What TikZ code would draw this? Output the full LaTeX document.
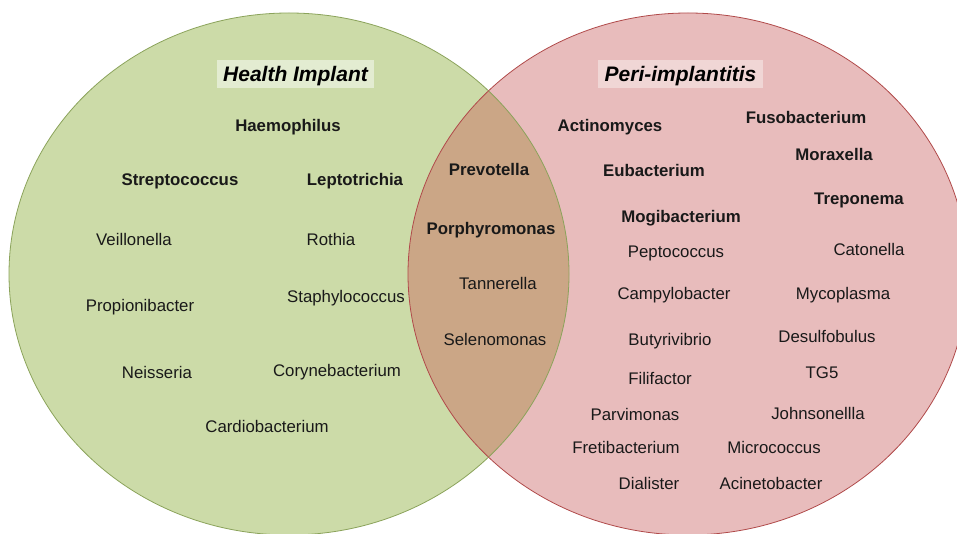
\documentclass[tikz,border=0pt]{standalone}
\usepackage{fontspec}
\setmainfont{Liberation Sans}
\definecolor{gfill}{HTML}{CCDBA8}
\definecolor{gline}{HTML}{8BA35B}
\definecolor{gbox}{HTML}{E3ECD1}
\definecolor{pfill}{HTML}{E8BCBC}
\definecolor{pline}{HTML}{B04A4A}
\definecolor{pbox}{HTML}{F0D6D5}
\definecolor{ofill}{HTML}{CBA686}
\tikzset{
  lbl/.style={font=\fontsize{16.8}{18}\selectfont, text=black!90, inner sep=0pt, text height=12pt, text depth=0pt, anchor=center},
  blbl/.style={lbl, font=\fontsize{16.8}{18}\selectfont\bfseries},
  ttl/.style={font=\fontsize{21}{24}\selectfont\bfseries\itshape, inner xsep=6.5pt, inner ysep=6.5pt, text height=15pt, text depth=0pt, anchor=center}
}
\begin{document}
\begin{tikzpicture}[x=1pt,y=-1pt]
\useasboundingbox (0,0) rectangle (957,534);
\clip (0,0) rectangle (957,534);
\fill[gfill] (289,274) ellipse [x radius=280pt, y radius=261pt];
\fill[pfill] (688,274) ellipse [x radius=280pt, y radius=261pt];
\begin{scope}
  \clip (289,274) ellipse [x radius=280pt, y radius=261pt];
  \fill[ofill] (688,274) ellipse [x radius=280pt, y radius=261pt];
\end{scope}
\draw[gline, line width=0.8pt] (289,274) ellipse [x radius=280pt, y radius=261pt];
\draw[pline, line width=0.8pt] (688,274) ellipse [x radius=280pt, y radius=261pt];

\node[ttl, fill=gbox] (t1) at (295.5,74) {Health Implant};
\node[ttl, fill=pbox] (t2) at (680.5,74) {Peri-implantitis};

% left
\node[blbl] (n1) at (288,126) {Haemophilus};
\node[blbl] (n2) at (180,180) {Streptococcus};
\node[blbl] (n3) at (355,180) {Leptotrichia};
\node[lbl] (n4) at (134,240) {Veillonella};
\node[lbl] (n5) at (331,240) {Rothia};
\node[lbl] (n6) at (140,305) {Propionibacter};
\node[lbl] (n7) at (346,296) {Staphylococcus};
\node[lbl] (n8) at (157,372) {Neisseria};
\node[lbl] (n9) at (337,370) {Corynebacterium};
\node[lbl] (n10) at (267,426) {Cardiobacterium};

% middle
\node[blbl] (m1) at (489,170) {Prevotella};
\node[blbl] (m2) at (491,229) {Porphyromonas};
\node[lbl] (m3) at (498,283) {Tannerella};
\node[lbl] (m4) at (495,339) {Selenomonas};

% right
\node[blbl] (r1) at (610,126) {Actinomyces};
\node[blbl] (r2) at (806,118) {Fusobacterium};
\node[blbl] (r3) at (834,155) {Moraxella};
\node[blbl] (r4) at (654,171) {Eubacterium};
\node[blbl] (r5) at (859,199) {Treponema};
\node[blbl] (r6) at (681,217) {Mogibacterium};
\node[lbl] (r7) at (676,252) {Peptococcus};
\node[lbl] (r8) at (869,250) {Catonella};
\node[lbl] (r9) at (674,293) {Campylobacter};
\node[lbl] (r10) at (843,293) {Mycoplasma};
\node[lbl] (r11) at (670,339) {Butyrivibrio};
\node[lbl] (r12) at (827,336) {Desulfobulus};
\node[lbl] (r13) at (660,378) {Filifactor};
\node[lbl] (r14) at (822,372) {TG5};
\node[lbl] (r15) at (635,414) {Parvimonas};
\node[lbl] (r16) at (818,413) {Johnsonellla};
\node[lbl] (r17) at (626,447) {Fretibacterium};
\node[lbl] (r18) at (774,447) {Micrococcus};
\node[lbl] (r19) at (649,483) {Dialister};
\node[lbl] (r20) at (771,483) {Acinetobacter};
\end{tikzpicture}
\end{document}
